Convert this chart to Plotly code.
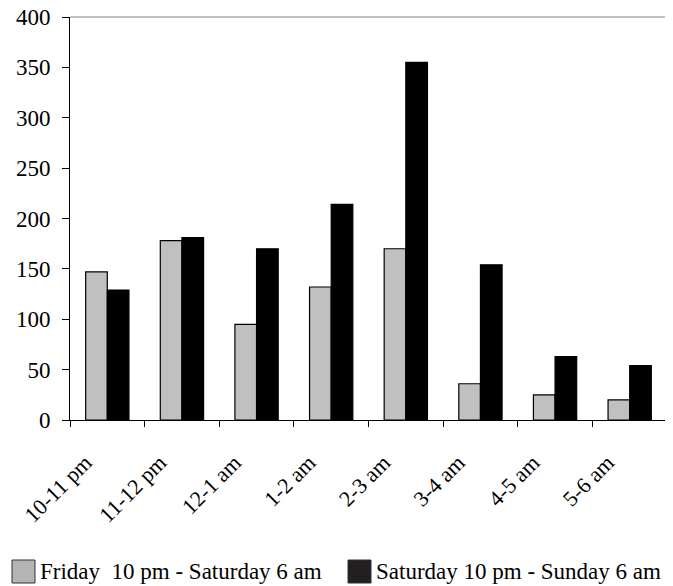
import plotly.graph_objects as go

categories = ["10-11 pm", "11-12 pm", "12-1 am", "1-2 am", "2-3 am", "3-4 am", "4-5 am", "5-6 am"]
friday = [147, 178, 95, 132, 170, 36, 25, 20]
saturday = [129, 181, 170, 214, 355, 154, 63, 54]
series_names = ["Friday  10 pm - Saturday 6 am", "Saturday 10 pm - Sunday 6 am"]
series_colors = ["#c0c0c0", "#000000"]
legend_colors = ["#b4b4b4", "#231f20"]
y_ticks = [0, 50, 100, 150, 200, 250, 300, 350, 400]

FONT = "Liberation Serif"
OFF = 8  # page body margin in the browser
W, H = 673 - OFF, 586 - OFF
ML, MR, MT, MB = 70 - OFF, 6, 17 - OFF, 166
PW, PH = W - ML - MR, H - MT - MB


def px_x(p):
    # screen pixel -> paper coordinate
    return (p - OFF - ML) / PW


def px_y(p):
    return (H - MB - (p - OFF)) / PH


fig = go.Figure()
for name, vals, col in zip(series_names, [friday, saturday], series_colors):
    fig.add_trace(go.Bar(x=categories, y=vals, name=name, showlegend=False,
                         marker=dict(color=col, line=dict(color="black", width=1.2))))

fig.update_layout(
    width=W, height=H,
    margin=dict(l=ML, r=MR, t=MT, b=MB),
    paper_bgcolor="white", plot_bgcolor="white",
    barmode="group", bargap=0.42, bargroupgap=0,
    font=dict(family=FONT, size=23, color="black"),
    showlegend=False,
)
fig.update_xaxes(
    type="category", tickson="boundaries", ticks="outside", ticklen=6, tickcolor="black",
    showline=True, linecolor="black", linewidth=1, automargin=False,
    tickangle=-45, tickfont=dict(family=FONT, size=22), showgrid=False,
    ticklabelstandoff=20, ticklabelshift=-22, ticklabeloverflow="allow",
)
fig.update_yaxes(
    range=[0, 400], tickvals=y_ticks, ticks="outside", ticklen=7, tickcolor="black",
    showline=True, linecolor="black", linewidth=1, showgrid=False, zeroline=False,
    tickfont=dict(family=FONT, size=23), automargin=False, ticklabelstandoff=7,
    ticklabeloverflow="allow",
)
# grey frame top and right
fig.add_shape(type="line", xref="paper", yref="paper", x0=0, x1=1, y0=1, y1=1,
              line=dict(color="#808080", width=1))
fig.add_shape(type="line", xref="paper", yref="paper", x0=1, x1=1, y0=0, y1=1,
              line=dict(color="#808080", width=1))

# manual legend
legend_sq_x = [12, 348]
for sx, name, col in zip(legend_sq_x, series_names, legend_colors):
    fig.add_shape(type="rect", xref="paper", yref="paper",
                  x0=px_x(sx), x1=px_x(sx + 23), y0=px_y(560), y1=px_y(583),
                  fillcolor=col, line=dict(color="#333333", width=1))
    fig.add_annotation(xref="paper", yref="paper", x=px_x(sx + 26), y=px_y(571),
                       text=name.replace("  ", "&nbsp; "), showarrow=False,
                       xanchor="left", yanchor="middle",
                       font=dict(family=FONT, size=23, color="black"))

fig.write_html("out.html")
